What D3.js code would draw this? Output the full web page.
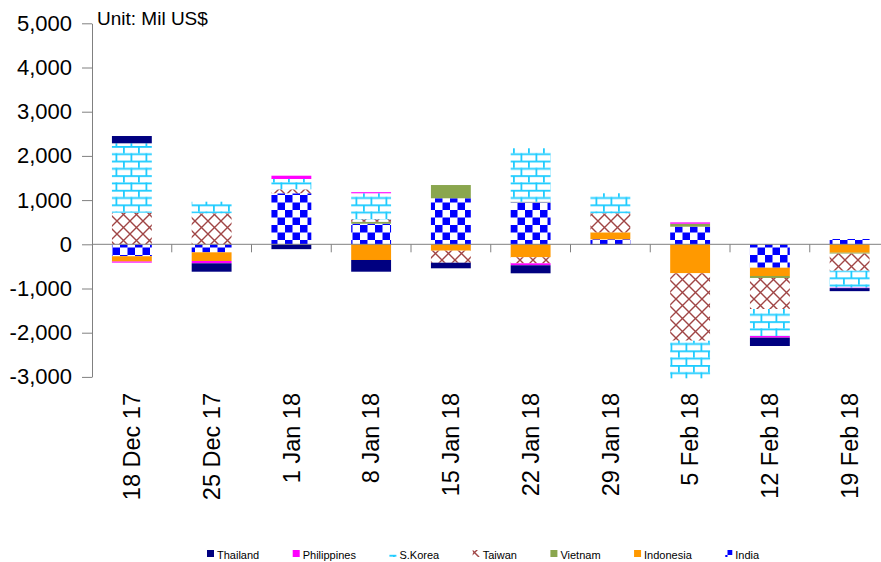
<!DOCTYPE html>
<html><head><meta charset="utf-8">
<script src="https://cdn.jsdelivr.net/npm/d3@7"></script>
<style>body{margin:0;background:#fff;} svg{display:block;font-family:Arial,"Liberation Sans",sans-serif;}</style>
</head><body><svg id="c" width="881" height="562"></svg>
<script>
const categories = ["18 Dec 17","25 Dec 17","1 Jan 18","8 Jan 18","15 Jan 18","22 Jan 18","29 Jan 18","5 Feb 18","12 Feb 18","19 Feb 18"];
const thailand    = [165, -190, -110, -265, -127, -181, -15, 0, -188, -68];
const philippines = [-25, -52, 74, 25, 0, -45, 0, 30, -38, -10];
const skorea      = [1570, 263, 234, 588, 0, 1207, 453, -851, -611, -385];
const taiwan      = [715, 701, 90, 55, -271, -136, 430, -1525, -702, -384];
const vietnam     = [0, 0, 0, 45, 300, 15, 0, 68, -45, -23];
const indonesia   = [-120, -197, 0, -355, -145, -294, 158, -656, -188, -190];
const india       = [-270, -181, 1154, 466, 1041, 950, 113, 398, -529, 120];
const stackKeys   = ["India","Indonesia","Vietnam","Taiwan","S.Korea","Philippines","Thailand"];
const legendKeys  = ["Thailand","Philippines","S.Korea","Taiwan","Vietnam","Indonesia","India"];
const yTicks      = [5000,4000,3000,2000,1000,0,-1000,-2000,-3000];
const unitLabel   = "Unit: Mil US$";

const seriesData = {"Thailand":thailand,"Philippines":philippines,"S.Korea":skorea,"Taiwan":taiwan,"Vietnam":vietnam,"Indonesia":indonesia,"India":india};
const rows = categories.map((c,i)=>{const r={cat:c}; stackKeys.forEach(k=>r[k]=seriesData[k][i]); return r;});

const svg = d3.select("#c");
const defs = svg.append("defs");
// patterns
const pInd = defs.append("pattern").attr("id","pIndia").attr("patternUnits","userSpaceOnUse").attr("width",15).attr("height",15);
pInd.append("rect").attr("width",15).attr("height",15).attr("fill","#fff");
pInd.append("rect").attr("width",7.5).attr("height",7.5).attr("fill","#0000FF");
pInd.append("rect").attr("x",7.5).attr("y",7.5).attr("width",7.5).attr("height",7.5).attr("fill","#0000FF");

const pTw = defs.append("pattern").attr("id","pTaiwan").attr("patternUnits","userSpaceOnUse").attr("width",13).attr("height",13);
pTw.append("rect").attr("width",13).attr("height",13).attr("fill","#fff");
pTw.append("path").attr("d","M-1,-1L14,14M14,-1L-1,14").attr("stroke","#A04545").attr("stroke-width",1.4).attr("fill","none");

const pSk = defs.append("pattern").attr("id","pKorea").attr("patternUnits","userSpaceOnUse").attr("width",15).attr("height",14.6);
pSk.append("rect").attr("width",15).attr("height",14.6).attr("fill","#fff");
pSk.append("rect").attr("y",0).attr("width",15).attr("height",1.8).attr("fill","#1ECCFF");
pSk.append("rect").attr("y",7.3).attr("width",15).attr("height",1.8).attr("fill","#1ECCFF");
pSk.append("rect").attr("x",3).attr("y",0).attr("width",1.8).attr("height",7.3).attr("fill","#1ECCFF");
pSk.append("rect").attr("x",10.5).attr("y",7.3).attr("width",1.8).attr("height",7.3).attr("fill","#1ECCFF");

const fills = {"Thailand":"#000080","Philippines":"#FF00FF","S.Korea":"url(#pKorea)","Taiwan":"url(#pTaiwan)","Vietnam":"#8AA64E","Indonesia":"#FF9900","India":"url(#pIndia)"};

const x = d3.scaleBand().domain(categories).range([92,889.5]).paddingInner(0.5).paddingOuter(0.25);
const y = d3.scaleLinear().domain([-3000,5000]).range([376.9,23.3]);

const stacked = d3.stack().keys(stackKeys).offset(d3.stackOffsetDiverging)(rows);

const gBars = svg.append("g");
stacked.forEach(s=>{
  gBars.append("g").attr("fill",fills[s.key]).selectAll("rect").data(s).join("rect")
    .attr("x",d=>x(d.data.cat))
    .attr("width",x.bandwidth())
    .attr("y",d=>y(Math.max(d[0],d[1])))
    .attr("height",d=>Math.abs(y(d[0])-y(d[1])));
});

// y axis
const yAxis = d3.axisLeft(y).tickValues(yTicks).tickSize(10).tickSizeOuter(0).tickPadding(10)
  .tickFormat(d=>d3.format(",")(d).replace("\u2212","-"));
const gy = svg.append("g").attr("transform","translate(92,0)").call(yAxis);
gy.select(".domain").attr("stroke","#808080");
gy.selectAll(".tick line").attr("stroke","#808080");
gy.selectAll(".tick text").attr("font-size",22).attr("fill","#000").attr("font-family","Arial,'Liberation Sans',sans-serif");

// x zero line + boundary ticks
const y0 = y(0);
svg.append("line").attr("x1",92).attr("x2",881).attr("y1",y0).attr("y2",y0).attr("stroke","#808080");
const step = x.step();
svg.append("g").selectAll("line").data(categories).join("line")
  .attr("x1",d=>x(d)+x.bandwidth()+(step-x.bandwidth())/2)
  .attr("x2",d=>x(d)+x.bandwidth()+(step-x.bandwidth())/2)
  .attr("y1",y0).attr("y2",y0+8).attr("stroke","#808080");

// x labels
svg.append("g").selectAll("text").data(categories).join("text")
  .attr("transform",d=>`translate(${x(d)+x.bandwidth()/2},393) rotate(-90)`)
  .attr("text-anchor","end").attr("dy","0.35em").attr("font-size",23.5).attr("fill","#000")
  .text(d=>d);

// unit label
svg.append("text").attr("x",97).attr("y",25).attr("font-size",19).attr("fill","#000").text(unitLabel);

// legend
const gL = svg.append("g");
let cx = 207;
legendKeys.forEach(k=>{
  gL.append("rect").attr("x",cx).attr("y",550).attr("width",7).attr("height",7).attr("fill",fills[k]);
  const t = gL.append("text").attr("x",cx+10).attr("y",559).attr("font-size",11).attr("fill","#000").text(k);
  const w = t.node().getComputedTextLength();
  cx = cx + 10 + w + 33.5;
});
</script></body></html>
